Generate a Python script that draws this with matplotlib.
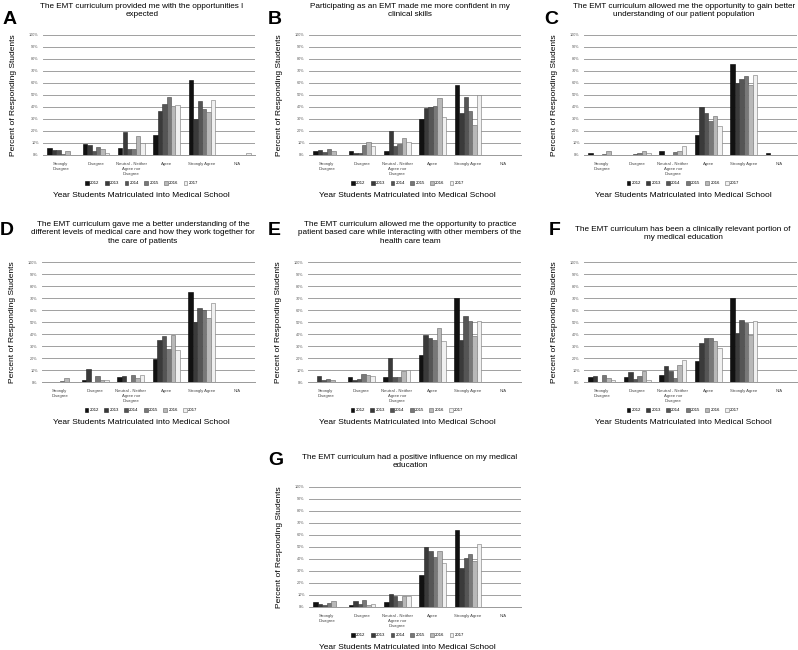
import matplotlib
matplotlib.use("Agg")
import matplotlib.pyplot as plt
import numpy as np

plt.rcParams['font.family'] = ['Liberation Sans', 'DejaVu Sans']

categories = ["Strongly\nDisagree", "Disagree", "Neutral - Neither\nAgree nor\nDisagree",
              "Agree", "Strongly Agree", "N/A"]
years = ["2012", "2013", "2014", "2015", "2016", "2017"]
year_colors = ["#111111", "#3a3a3a", "#555555", "#787878", "#b8b8b8", "#f0f0f0"]
year_edges = ["#000000", "#222222", "#333333", "#444444", "#666666", "#777777"]

# values per panel: rows = categories, columns = years 2012..2017 (percent)
vals_a = [[6, 4.5, 4, 1, 3, 0],
          [9.5, 8.5, 3.6, 7, 4.7, 1.4],
          [5.6, 19.5, 5, 4.7, 15.6, 9.7],
          [17, 36.7, 42.2, 48, 40.8, 41.7],
          [62.5, 30.3, 45, 38.6, 36.1, 46.1],
          [0, 0, 0, 0, 0, 1.4]]
vals_b = [[3.6, 4.2, 2.8, 5, 3.3, 0],
          [3.6, 1.9, 1.4, 8.3, 10.6, 7.5],
          [3.6, 19.7, 7.5, 9.4, 14.2, 10.6],
          [30, 38.9, 40.3, 40.8, 47.8, 31.7],
          [58.3, 34.7, 48, 36.7, 25, 50],
          [0, 0, 0, 0, 0, 0]]
vals_c = [[1.7, 0, 0, 0.8, 3.3, 0],
          [0, 0, 1, 2, 3.3, 1.4],
          [3.6, 0, 0, 2.5, 3.3, 7.5],
          [17, 39.7, 34.7, 28, 32.5, 24.4],
          [75.6, 59.7, 63.6, 66.1, 58.6, 66.9],
          [1.7, 0, 0, 0, 0, 0]]
vals_d = [[0, 0, 0, 1.1, 3.6, 0],
          [2, 11, 0, 5, 1.7, 1.4],
          [4.4, 4.7, 0, 5.8, 3.3, 6.1],
          [19.4, 35, 38, 27.8, 39.4, 26.9],
          [75, 50, 61.9, 60.3, 53.3, 65.8],
          [0, 0, 0, 0, 0, 0]]
vals_e = [[0, 5, 1.4, 2.5, 1.4, 0],
          [3.9, 1.9, 2.5, 7, 5.8, 5],
          [3.9, 19.7, 3.9, 4.4, 9.2, 10],
          [22.8, 39.4, 36.9, 35.3, 45, 34.2],
          [70, 34.7, 55.3, 51.1, 38.3, 51.1],
          [0, 0, 0, 0, 0, 0]]
vals_f = [[3.9, 4.7, 0, 5.8, 3.3, 1.7],
          [3.9, 8.6, 2.8, 5, 9.4, 1.7],
          [5.8, 13.3, 9.2, 3.3, 14.4, 18.3],
          [17.2, 32.8, 36.7, 36.7, 34.4, 28.3],
          [70, 41.1, 51.9, 49.4, 39.4, 51.1],
          [0, 0, 0, 0, 0, 0]]
vals_g = [[3.9, 2.5, 1.4, 3.3, 4.7, 0],
          [1.7, 4.7, 2.5, 5.8, 1.7, 2.2],
          [3.9, 11.1, 9.4, 5, 9.2, 9.2],
          [26.4, 50, 46.9, 41.9, 46.4, 36.7],
          [64.2, 32.5, 40.6, 44.4, 38.6, 52.8],
          [0, 0, 0, 0, 0, 0]]

titles = {
    "A": "The EMT curriculum provided me with the opportunities I\nexpected",
    "B": "Participating as an EMT made me more confident in my\nclinical skills",
    "C": "The EMT curriculum allowed me the opportunity to gain better\nunderstanding of our patient population",
    "D": "The EMT curriculum gave me a better understanding of the\ndifferent levels of medical care and how they work together for\nthe care of patients",
    "E": "The EMT curriculum allowed me the opportunity to practice\npatient based care while interacting with other members of the\nhealth care team",
    "F": "The EMT curriculum has been a clinically relevant portion of\nmy medical education",
    "G": "The EMT curriculum had a positive influence on my medical\neducation",
}

W, H = 798, 650
fig = plt.figure(figsize=(W / 100, H / 100), dpi=100)

# panel: letter, data, axes px box (x0, y0, x1, y1), title (center x, top y), letter (x, y)
panels = [
    ("A", vals_a, (43, 35, 255, 155), (142, 3), (3, 11)),
    ("B", vals_b, (309, 35, 521, 155), (410, 3), (268, 11)),
    ("C", vals_c, (584, 35, 797, 155), (684, 3), (544, 11)),
    ("D", vals_d, (42, 262, 255, 382), (143, 221), (0, 222)),
    ("E", vals_e, (308, 262, 521, 382), (410, 221), (268, 222)),
    ("F", vals_f, (584, 262, 797, 382), (683, 226), (549, 222)),
    ("G", vals_g, (309, 487, 521, 607), (410, 454), (268, 452)),
]


def draw_panel(letter, vals, box, tpos, lpos):
    x0, y0, x1, y1 = box
    ax = fig.add_axes([x0 / W, 1 - y1 / H, (x1 - x0) / W, (y1 - y0) / H])
    data = np.array(vals)
    x = np.arange(len(categories))
    bw = 0.125
    for i, yr in enumerate(years):
        ax.bar(x + (i - 2.5) * bw, data[:, i], bw, color=year_colors[i],
               edgecolor=year_edges[i], linewidth=0.4, label=yr, zorder=3)
    ax.set_xlim(-0.5, len(categories) - 0.5)
    ax.set_ylim(0, 100)
    ax.set_yticks(np.arange(0, 101, 10))
    ax.set_yticklabels([f"{v}%" for v in range(0, 101, 10)], fontsize=2.7, color="#555555")
    ax.set_xticks(x)
    ax.set_xticklabels(categories, fontsize=3.1, color="#444444", linespacing=1.3)
    ax.tick_params(axis="y", length=0, pad=3)
    ax.tick_params(axis="x", length=0, pad=5)
    ax.grid(axis="y", color="#a0a0a0", linewidth=0.7, zorder=0)
    for s in ["top", "right", "left"]:
        ax.spines[s].set_visible(False)
    ax.spines["bottom"].set_color("#999999")
    ax.spines["bottom"].set_linewidth(0.7)
    ax.set_ylabel("Percent of Responding Students", fontsize=6, labelpad=9)
    ax.legend(loc="center", bbox_to_anchor=(0.465, -0.235), ncol=6, fontsize=3.1,
              frameon=False, handlelength=0.9, handleheight=0.9, handletextpad=0.3,
              columnspacing=1.2, borderpad=0)
    ax.text(0.465, -0.335, "Year Students Matriculated into Medical School",
            transform=ax.transAxes, ha="center", va="center", fontsize=6)
    fig.text(tpos[0] / W, 1 - tpos[1] / H, titles[letter], ha="center", va="top",
             fontsize=5.85, linespacing=1.25)
    fig.text(lpos[0] / W, 1 - lpos[1] / H, letter, ha="left", va="top",
             fontsize=14, fontweight="bold")
    return ax


for p in panels:
    draw_panel(*p)

fig.savefig("out.png", dpi=100, facecolor="white")
